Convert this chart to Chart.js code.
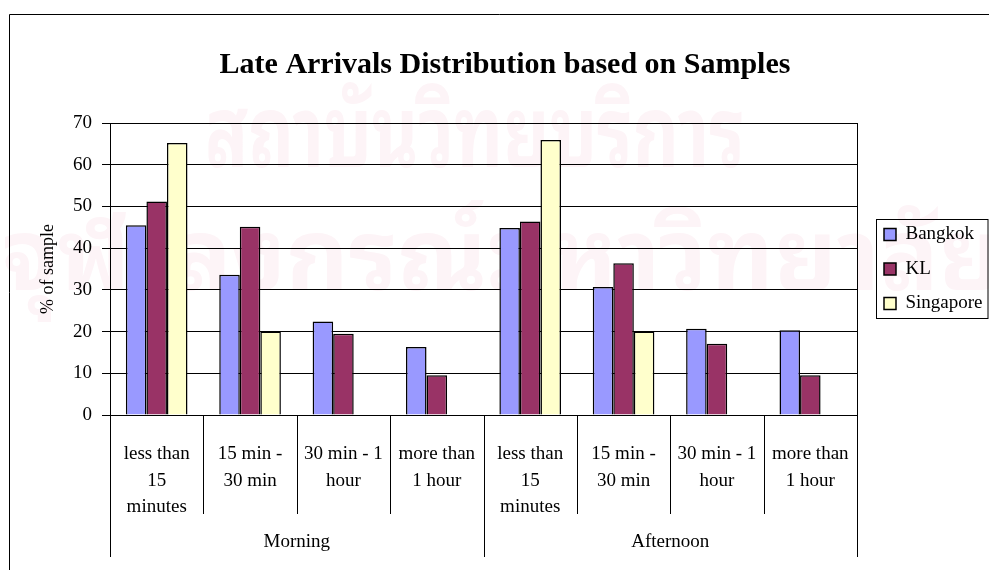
<!DOCTYPE html>
<html>
<head>
<meta charset="utf-8">
<title>Late Arrivals Distribution based on Samples</title>
<script src="https://cdn.jsdelivr.net/npm/chart.js@4/dist/chart.umd.min.js"></script>
<style>
  html, body { margin: 0; padding: 0; background: #fff; }
  #wrap { width: 989px; height: 570px; }
</style>
</head>
<body>
<div id="wrap"><canvas id="chart" width="989" height="570"></canvas></div>
<script>
// Outer grouping of the x axis (time of day)
const periods = ['Morning', 'Afternoon'];
// Inner categories: lateness bands, split into label lines
const delayBands = [
  ['less than', '15', 'minutes'],
  ['15 min -', '30 min'],
  ['30 min - 1', 'hour'],
  ['more than', '1 hour']
];
// Share of sampled flights (%), morning bands then afternoon bands
const bangkok   = [45.5, 33.6, 22.4, 16.3, 44.8, 30.7, 20.7, 20.3];
const kl        = [51.2, 45.1, 19.5,  9.5, 46.4, 36.4, 17.1,  9.5];
const singapore = [65.2, 20.0,  0,    0,   65.9, 20.0,  0,    0  ];
// Value axis
const yMin = 0, yMax = 70, yStep = 10;

const SERIF = '"Liberation Serif", "Times New Roman", serif';
const THAI = '"Noto Sans Thai Looped", "Noto Serif Thai", "Noto Sans Thai", "Noto Sans", sans-serif';
const labels = periods.flatMap(() => delayBands);

Chart.defaults.color = '#000';
Chart.defaults.font.family = SERIF;

// White page, outer chart frame and faint background lettering
const pageBackground = {
  id: 'pageBackground',
  beforeDraw(chart) {
    const ctx = chart.ctx;
    ctx.save();
    ctx.fillStyle = '#fff';
    ctx.fillRect(0, 0, chart.width, chart.height);

    ctx.fillStyle = '#fdf4f7';
    const drawFitted = (text, x, baseline, width, size) => {
      ctx.font = 'bold ' + size + 'px ' + THAI;
      ctx.textBaseline = 'alphabetic';
      ctx.textAlign = 'left';
      const w = ctx.measureText(text).width;
      ctx.save();
      ctx.translate(x, baseline);
      ctx.scale(width / w, 1);
      ctx.fillText(text, 0, 0);
      ctx.restore();
    };
    drawFitted('สถาบันวิทยบริการ', 205, 167, 540, 100);
    drawFitted('จุฬาลงกรณ์มหาวิทยาลัย', 2, 290, 1000, 100);

    ctx.strokeStyle = '#000';
    ctx.lineWidth = 1;
    ctx.beginPath();
    ctx.moveTo(9.5, chart.height);
    ctx.lineTo(9.5, 14.5);
    ctx.lineTo(chart.width, 14.5);
    ctx.stroke();
    ctx.restore();
  }
};

// Plot frame, category separators, period labels and the legend frame
const chartFurniture = {
  id: 'chartFurniture',
  afterDraw(chart) {
    const ctx = chart.ctx;
    const area = chart.chartArea;
    const xs = chart.scales.x;
    const n = labels.length;
    const perGroup = delayBands.length;
    ctx.save();
    ctx.strokeStyle = '#000';
    ctx.lineWidth = 1;

    // right side of the plot frame
    ctx.beginPath();
    ctx.moveTo(Math.round(area.right) + 0.5, area.top);
    ctx.lineTo(Math.round(area.right) + 0.5, area.bottom);
    ctx.stroke();

    const edge = i => i === 0 ? xs.left : i === n ? xs.right
      : (xs.getPixelForValue(i - 1) + xs.getPixelForValue(i)) / 2;

    for (let i = 0; i <= n; i++) {
      const x = Math.round(edge(i)) + 0.5;
      const isGroupEdge = i % perGroup === 0;
      ctx.beginPath();
      ctx.moveTo(x, area.bottom);
      ctx.lineTo(x, area.bottom + (isGroupEdge ? 142 : 99));
      ctx.stroke();
    }

    ctx.fillStyle = '#000';
    ctx.font = '19px ' + SERIF;
    ctx.textAlign = 'center';
    ctx.textBaseline = 'middle';
    periods.forEach((p, g) => {
      const cx = (edge(g * perGroup) + edge((g + 1) * perGroup)) / 2;
      ctx.fillText(p, cx, area.bottom + 127);
    });

    const boxes = chart.legend.legendHitBoxes;
    if (boxes && boxes.length) {
      const first = boxes[0], last = boxes[boxes.length - 1];
      const left = Math.round(first.left - 8) + 0.5;
      const top = Math.round(first.top + first.height / 2 - 16) + 0.5;
      const bottom = Math.round(last.top + last.height / 2 + 14) + 0.5;
      ctx.strokeRect(left, top, chart.width - 1 - left, bottom - top);
    }
    ctx.restore();
  }
};

const LEGEND_PAD = 15.5;
const LEGEND_WIDTH = 120.5;
const GAP = 11.5;

const chart = new Chart(document.getElementById('chart'), {
  type: 'bar',
  data: {
    labels: labels,
    datasets: [
      { label: 'Bangkok',   data: bangkok,   backgroundColor: '#9999ff' },
      { label: 'KL',        data: kl,        backgroundColor: '#993366' },
      { label: 'Singapore', data: singapore, backgroundColor: '#ffffcc' }
    ].map(d => Object.assign(d, {
      borderColor: '#000',
      borderWidth: 1.5,
      categoryPercentage: 0.66,
      barPercentage: 1.0
    }))
  },
  options: {
    responsive: false,
    devicePixelRatio: 1,
    animation: false,
    layout: { padding: { top: 0, left: 21, right: 0, bottom: 0 } },
    plugins: {
      title: {
        display: true,
        text: 'Late Arrivals Distribution based on Samples',
        color: '#000',
        font: { family: SERIF, size: 30, weight: 'bold' },
        padding: { top: 47, bottom: 40 }
      },
      legend: {
        position: 'right',
        align: 'center',
        fullSize: false,
        maxWidth: LEGEND_WIDTH,
        labels: {
          boxWidth: 12,
          boxHeight: 12,
          padding: LEGEND_PAD,
          color: '#000',
          font: { family: SERIF, size: 19 }
        }
      },
      tooltip: { enabled: false }
    },
    scales: {
      x: {
        type: 'category',
        offset: true,
        grid: { display: false },
        border: { display: true, color: '#000', width: 1 },
        ticks: {
          color: '#000',
          font: { family: SERIF, size: 19, lineHeight: 1.4 },
          padding: 18,
          maxRotation: 0,
          autoSkip: false
        },
        afterFit(s) { s.height = 155; }
      },
      y: {
        type: 'linear',
        min: yMin,
        max: yMax,
        ticks: {
          stepSize: yStep,
          color: '#000',
          font: { family: SERIF, size: 19 },
          padding: 10
        },
        grid: { color: '#000', lineWidth: 1, tickLength: 8, drawTicks: true },
        border: { display: true, color: '#000', width: 1 },
        title: {
          display: true,
          text: '% of sample',
          color: '#000',
          font: { family: SERIF, size: 18 },
          padding: { top: 16, bottom: 0 }
        },
        afterFit(s) { s.width = 89; }
      },
      gap: {
        type: 'linear',
        position: 'right',
        display: true,
        grid: { display: false },
        border: { display: false },
        ticks: { display: false },
        afterFit(s) { s.width = GAP; }
      }
    }
  },
  plugins: [pageBackground, chartFurniture]
});

// Keep the plot's right edge at 857px by taking up any remaining room
const spare = chart.width - 857 - GAP - chart.legend.width;
if (spare > 0) {
  chart.options.layout.padding.right = spare;
  chart.update();
}
</script>
</body>
</html>
